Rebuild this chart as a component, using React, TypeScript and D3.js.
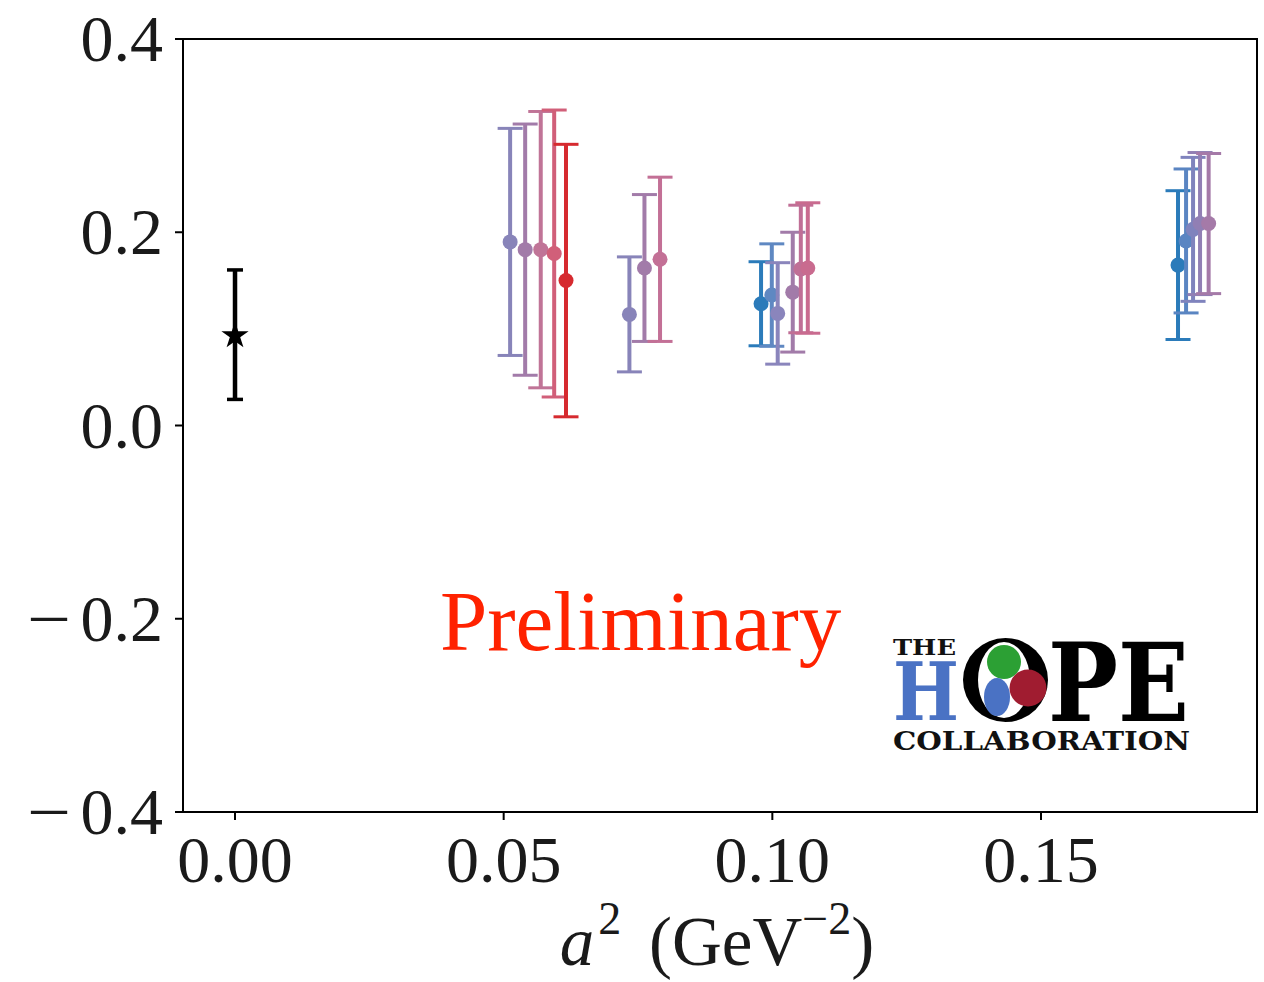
import React from "react";
import * as d3 from "d3";

// ---- data ----
const xTicks = [0.0, 0.05, 0.1, 0.15];
const xTickLabels = ["0.00", "0.05", "0.10", "0.15"];
const yTicks = [-0.4, -0.2, 0.0, 0.2, 0.4];
const yTickLabels = ["0.4", "0.2", "0.0", "0.2", "0.4"];
const yTickNegative = [true, true, false, false, false];

// continuum point
const contX = [0.0];
const contY = [0.094];
const contErr = [0.067];

// lattice points (a^2, value, symmetric error)
const latX = [
  0.0512, 0.054, 0.0569, 0.0594, 0.0616,
  0.0734, 0.0762, 0.0791,
  0.0979, 0.0999, 0.101, 0.1038, 0.1053, 0.1066,
  0.1755, 0.177, 0.1783, 0.1796, 0.1812,
];
const latY = [
  0.19, 0.182, 0.182, 0.178, 0.15,
  0.115, 0.163, 0.172,
  0.126, 0.135, 0.116, 0.138, 0.162, 0.163,
  0.166, 0.191, 0.203, 0.209, 0.209,
];
const latErr = [
  0.1175, 0.13, 0.143, 0.1485, 0.141,
  0.0595, 0.076, 0.085,
  0.0435, 0.053, 0.0525, 0.062, 0.066, 0.0675,
  0.077, 0.0745, 0.0745, 0.0735, 0.0725,
];
const latColor = [
  "#8884b9", "#a27ba9", "#c07497", "#d15f79", "#d62a2f",
  "#8884b9", "#a27ba9", "#c37096",
  "#2b7bba", "#5f88c2", "#8a85bc", "#a27ba9", "#c06f96", "#c96b8f",
  "#2b7bba", "#5a85c2", "#7f83bd", "#917fb4", "#a57aa8",
];

const W = 1264;
const H = 982;
const L = 183, R = 1257, T = 39, B = 812;

export default function App() {
  const x = d3.scaleLinear().domain([-0.00968, 0.1902]).range([L, R]);
  const y = d3.scaleLinear().domain([-0.4, 0.4]).range([B, T]);
  const star = d3.symbol().type(d3.symbolStar).size(230)() as string;
  const serif = "'Liberation Serif', 'DejaVu Serif', serif";
  const logoFont = "'DejaVu Serif', 'Liberation Serif', serif";
  const cap = 12.5;
  const txt = "#1a1a1a";

  return (
    <div style={{ position: "absolute", left: 0, top: 0, width: W, height: H, background: "#fff" }}>
      <svg width={W} height={H} style={{ display: "block" }}>
        <rect x={0} y={0} width={W} height={H} fill="#fff" />

        {/* lattice error bars */}
        {latX.map((xv, i) => {
          const cx = x(xv);
          const y1 = y(latY[i] + latErr[i]);
          const y0 = y(latY[i] - latErr[i]);
          const c = latColor[i];
          return (
            <g key={"l" + i}>
              <line x1={cx} x2={cx} y1={y1} y2={y0} stroke={c} strokeWidth={4} />
              <line x1={cx - cap} x2={cx + cap} y1={y1} y2={y1} stroke={c} strokeWidth={3} />
              <line x1={cx - cap} x2={cx + cap} y1={y0} y2={y0} stroke={c} strokeWidth={3} />
              <circle cx={cx} cy={y(latY[i])} r={7.5} fill={c} />
            </g>
          );
        })}

        {/* continuum */}
        {contX.map((xv, i) => {
          const cx = x(xv);
          const y1 = y(contY[i] + contErr[i]);
          const y0 = y(contY[i] - contErr[i]);
          return (
            <g key={"c" + i}>
              <line x1={cx} x2={cx} y1={y1} y2={y0} stroke="#000" strokeWidth={4.5} />
              <line x1={cx - 8} x2={cx + 8} y1={y1} y2={y1} stroke="#000" strokeWidth={3.5} />
              <line x1={cx - 8} x2={cx + 8} y1={y0} y2={y0} stroke="#000" strokeWidth={3.5} />
              <path d={star} transform={`translate(${cx},${y(contY[i]) + 1})`} fill="#000" />
            </g>
          );
        })}

        {/* frame */}
        <rect x={L} y={T} width={R - L} height={B - T} fill="none" stroke="#000" strokeWidth={2} />

        {/* y ticks */}
        {yTicks.map((t, i) => (
          <g key={"yt" + i}>
            <line x1={L - 8} x2={L} y1={y(t)} y2={y(t)} stroke="#000" strokeWidth={2} />
            <text x={163} y={y(t) + 22} textAnchor="end" fontFamily={serif} fontSize={66} fill={txt}>
              {yTickLabels[i]}
            </text>
            {yTickNegative[i] && (
              <text x={27} y={y(t) + 22} fontFamily={serif} fontSize={66} textLength={44} lengthAdjust="spacingAndGlyphs" fill={txt}>
                {"\u2212"}
              </text>
            )}
          </g>
        ))}

        {/* x ticks */}
        {xTicks.map((t, i) => (
          <g key={"xt" + i}>
            <line x1={x(t)} x2={x(t)} y1={B} y2={B + 8} stroke="#000" strokeWidth={2} />
            <text x={x(t)} y={882} textAnchor="middle" fontFamily={serif} fontSize={66} fill={txt}>
              {xTickLabels[i]}
            </text>
          </g>
        ))}

        {/* x axis label */}
        <text x={717} y={965} textAnchor="middle" fontFamily={serif} fontSize={69} fill={txt}>
          <tspan fontStyle="italic">a</tspan>
          <tspan fontSize={46} dy={-31} dx={4}>2</tspan>
          <tspan dy={31}>{"\u2009\u2009(GeV"}</tspan>
          <tspan fontSize={46} dy={-31}>{"\u22122"}</tspan>
          <tspan dy={31}>)</tspan>
        </text>

        {/* Preliminary */}
        <text x={440} y={650} fontFamily={serif} fontSize={85} fill="#ff2200">
          Preliminary
        </text>

        {/* HOPE logo */}
        <g>
          <text x={893} y={655} fontFamily={logoFont} fontWeight="bold" fontSize={22} textLength={63} lengthAdjust="spacingAndGlyphs" fill="#111">THE</text>
          <text x={893} y={720} fontFamily={logoFont} fontWeight="bold" fontSize={80} textLength={66} lengthAdjust="spacingAndGlyphs" fill="#4a72c4">H</text>
          <ellipse cx={1005.5} cy={680} rx={42.5} ry={42} fill="#000" />
          <ellipse cx={1004} cy={680} rx={26} ry={38} fill="#fff" />
          <circle cx={1004} cy={662} r={17} fill="#2ca034" />
          <ellipse cx={997} cy={697} rx={13} ry={19} fill="#4a72c4" />
          <circle cx={1028} cy={688} r={18.5} fill="#a01c30" />
          <text x={1048} y={721} fontFamily={logoFont} fontWeight="bold" fontSize={108} textLength={141} lengthAdjust="spacingAndGlyphs" fill="#000">PE</text>
          <text x={893} y={750} fontFamily={logoFont} fontWeight="bold" fontSize={26} textLength={297} lengthAdjust="spacingAndGlyphs" fill="#111">COLLABORATION</text>
        </g>
      </svg>
    </div>
  );
}
